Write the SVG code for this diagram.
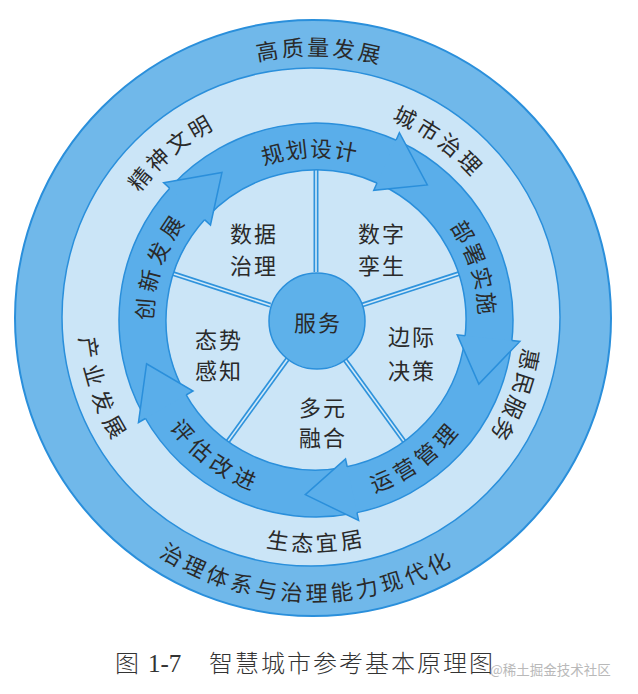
<svg xmlns="http://www.w3.org/2000/svg" width="638" height="694" viewBox="0 0 638 694">
<style>
.t{font-family:"Noto Sans CJK SC","Noto Sans",sans-serif;font-size:22px;fill:#2a2a2a;font-weight:400;text-anchor:middle}
.body{fill:#5aaeea;stroke:#2a8fdb;stroke-width:1.5;stroke-linejoin:round}
.hf{fill:#5aaeea;stroke:none}
.hl{fill:none;stroke:#2a8fdb;stroke-width:1.5;stroke-linejoin:miter}
.sp{stroke:#2f93dc;stroke-width:5;stroke-linecap:butt}
.sp2{stroke:#d3eaf9;stroke-width:1.6}
</style>
<defs>
<path id="oCW" d="M313,580.5 A262.5,262.5 0 1 1 313,55.5 A262.5,262.5 0 1 1 313,580.5"/>
<path id="oCCW" d="M313,34.5 A283.5,283.5 0 1 0 313,601.5 A283.5,283.5 0 1 0 313,34.5"/>
<path id="bCW" d="M312,531 A213,213 0 1 1 312,105 A213,213 0 1 1 312,531"/>
<path id="bCCW" d="M312,84.5 A233.5,233.5 0 1 0 312,551.5 A233.5,233.5 0 1 0 312,84.5"/>
<path id="rCW" d="M316,483 A163,163 0 1 1 316,157 A163,163 0 1 1 316,483"/>
<path id="rCCW" d="M316,138 A182,182 0 1 0 316,502 A182,182 0 1 0 316,138"/>
</defs>
<rect width="638" height="694" fill="#ffffff"/>
<g id="outer-ring">
<circle cx="313" cy="318" r="298" fill="#70b8ea" stroke="#2a8fdb" stroke-width="2"/>
<text class="t" letter-spacing="3"><textPath href="#oCW" startOffset="50.4%">高质量发展</textPath></text>
<text class="t" letter-spacing="4"><textPath href="#oCCW" startOffset="49.6%">治理体系与治理能力现代化</textPath></text>
</g>
<g id="middle-band">
<circle cx="311" cy="317" r="249" fill="#cbe5f7" stroke="#2a8fdb" stroke-width="1.5"/>
<text class="t" letter-spacing="3.5"><textPath href="#bCW" startOffset="38.8%">精神文明</textPath></text>
<text class="t" letter-spacing="3.5"><textPath href="#bCW" startOffset="59.9%">城市治理</textPath></text>
<text class="t" letter-spacing="2"><textPath href="#bCW" startOffset="80.8%">惠民服务</textPath></text>
<text class="t" letter-spacing="3.5"><textPath href="#bCCW" startOffset="50.3%">生态宜居</textPath></text>
<text class="t" letter-spacing="7"><textPath href="#bCCW" startOffset="30.3%">产业发展</textPath></text>
</g>
<g id="connectors">
<line class="sp" x1="316" y1="272" x2="316" y2="170"/>
<line class="sp" x1="361.65" y1="305.17" x2="458.66" y2="273.65"/>
<line class="sp" x1="344.21" y1="358.83" x2="404.17" y2="441.35"/>
<line class="sp" x1="287.79" y1="358.83" x2="227.83" y2="441.35"/>
<line class="sp" x1="270.35" y1="305.17" x2="173.34" y2="273.65"/>
<line class="sp2" x1="316" y1="272" x2="316" y2="170"/>
<line class="sp2" x1="361.65" y1="305.17" x2="458.66" y2="273.65"/>
<line class="sp2" x1="344.21" y1="358.83" x2="404.17" y2="441.35"/>
<line class="sp2" x1="287.79" y1="358.83" x2="227.83" y2="441.35"/>
<line class="sp2" x1="270.35" y1="305.17" x2="173.34" y2="273.65"/>
</g>
<g id="cycle-arrows">
<path id="body-guihua" class="body" d="M171.92,185.65 A197,197 0 0 1 399.26,141.46 L379.39,184.05 A150,150 0 0 0 206.30,217.70 Z"/>
<path id="body-bushu" class="body" d="M399.26,141.46 A197,197 0 0 1 511.53,344.01 L464.88,338.28 A150,150 0 0 0 379.39,184.05 Z"/>
<path id="body-yunying" class="body" d="M511.53,344.01 A197,197 0 0 1 353.59,513.38 L344.62,467.24 A150,150 0 0 0 464.88,338.28 Z"/>
<path id="body-pinggu" class="body" d="M353.59,513.38 A197,197 0 0 1 143.70,415.51 L184.81,392.72 A150,150 0 0 0 344.62,467.24 Z"/>
<path id="body-chuangxin" class="body" d="M143.70,415.51 A197,197 0 0 1 171.92,185.65 L206.30,217.70 A150,150 0 0 0 184.81,392.72 Z"/>
<g id="head-guihua"><path class="hf" d="M396.13,140.03 L399.38,132.72 L427.31,184.97 L373.76,190.28 L377.01,182.97 Z"/><path class="hl" d="M396.13,140.03 L399.38,132.72 L427.31,184.97 L373.76,190.28 L377.01,182.97"/></g>
<g id="head-bushu"><path class="hf" d="M511.92,340.59 L519.88,341.43 L478.82,384.14 L457.22,334.84 L465.18,335.68 Z"/><path class="hl" d="M511.92,340.59 L519.88,341.43 L478.82,384.14 L457.22,334.84 L465.18,335.68"/></g>
<g id="head-yunying"><path class="hf" d="M356.96,512.70 L358.62,520.52 L305.32,494.67 L345.52,458.90 L347.19,466.72 Z"/><path class="hl" d="M356.96,512.70 L358.62,520.52 L305.32,494.67 L345.52,458.90 L347.19,466.72"/></g>
<g id="head-pinggu"><path class="hf" d="M145.39,418.50 L138.46,422.50 L146.57,363.82 L193.02,391.00 L186.10,395.00 Z"/><path class="hl" d="M145.39,418.50 L138.46,422.50 L146.57,363.82 L193.02,391.00 L186.10,395.00"/></g>
<g id="head-chuangxin"><path class="hf" d="M169.60,188.18 L163.66,182.83 L221.97,172.41 L210.47,224.98 L204.53,219.63 Z"/><path class="hl" d="M169.60,188.18 L163.66,182.83 L221.97,172.41 L210.47,224.98 L204.53,219.63"/></g>
<text class="t" letter-spacing="1.5"><textPath href="#rCW" startOffset="49.4%">规划设计</textPath></text>
<text class="t" letter-spacing="2"><textPath href="#rCW" startOffset="70%">部署实施</textPath></text>
<text class="t" letter-spacing="5.5"><textPath href="#rCW" startOffset="30.3%">创新发展</textPath></text>
<text class="t" letter-spacing="5.5"><textPath href="#rCCW" startOffset="60%">运营管理</textPath></text>
<text class="t" letter-spacing="5.5"><textPath href="#rCCW" startOffset="39.9%">评估改进</textPath></text>
</g>
<g id="center-service">
<circle cx="317" cy="321" r="48" fill="#5eb1ea" stroke="#2a8fdb" stroke-width="1.5"/>
<text class="t" x="318" y="330.5" font-size="23" letter-spacing="2">服务</text>
</g>
<g id="sector-data-governance"><text class="t" x="254" y="241.5" letter-spacing="2">数据</text><text class="t" x="254" y="273.5" letter-spacing="2">治理</text></g>
<g id="sector-digital-twin"><text class="t" x="382" y="241.5" letter-spacing="2">数字</text><text class="t" x="382" y="273.5" letter-spacing="2">孪生</text></g>
<g id="sector-situation"><text class="t" x="219" y="347.5" letter-spacing="2">态势</text><text class="t" x="219" y="378.5" letter-spacing="2">感知</text></g>
<g id="sector-edge-decision"><text class="t" x="412" y="344.5" letter-spacing="2">边际</text><text class="t" x="412" y="378.5" letter-spacing="2">决策</text></g>
<g id="sector-fusion"><text class="t" x="323" y="415.5" letter-spacing="2">多元</text><text class="t" x="323" y="445.5" letter-spacing="2">融合</text></g>
<g id="caption">
<text x="115" y="672" font-family="'Noto Sans CJK SC',sans-serif" font-weight="300" font-size="24" fill="#333">图</text>
<text x="148" y="672" font-family="'Liberation Serif',serif" font-size="25" fill="#333">1-7</text>
<text x="209" y="672" font-family="'Noto Sans CJK SC',sans-serif" font-weight="300" font-size="24" letter-spacing="2" fill="#333">智慧城市参考基本原理图</text>
<text x="490" y="675" font-family="'Noto Sans CJK SC',sans-serif" font-size="13.5" fill="#b9b9b9">@稀土掘金技术社区</text>
</g>
</svg>
